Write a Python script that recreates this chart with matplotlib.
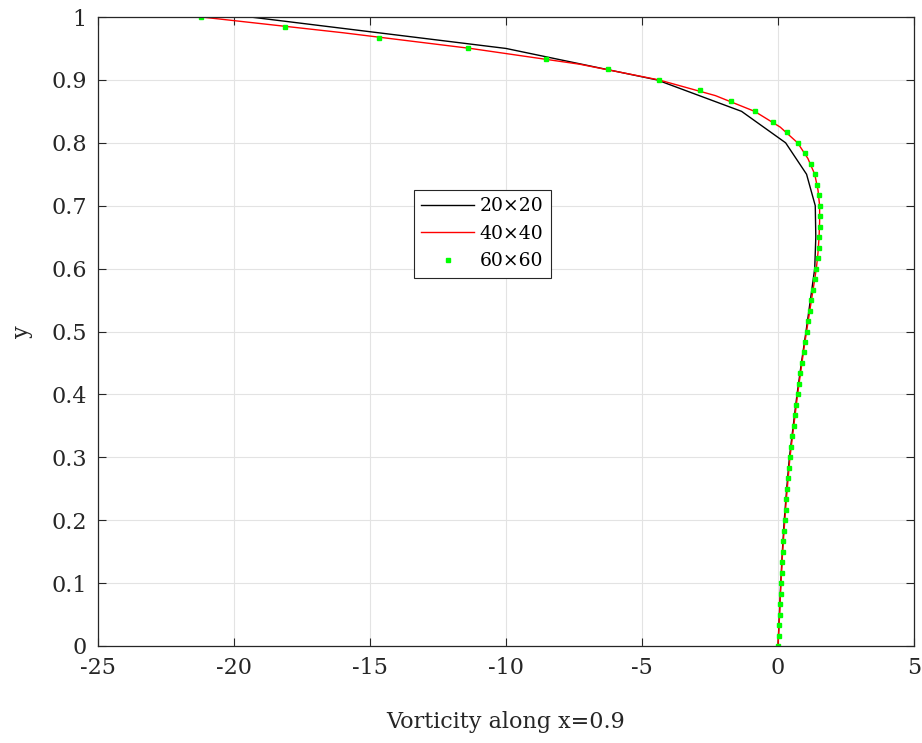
import numpy as np
import matplotlib
matplotlib.use("Agg")
import matplotlib.pyplot as plt

plt.rcParams['font.family'] = ['DejaVu Serif']

# 20x20 mesh (y = 0:0.05:1)
y20 = np.linspace(0, 1, 21)
w20 = [0.0, 0.05, 0.10, 0.16, 0.23, 0.32, 0.42, 0.56, 0.70, 0.86, 1.03,
       1.19, 1.35, 1.39, 1.37, 1.05, 0.28, -1.34, -4.45, -10.0, -19.4]

# 40x40 mesh (y = 0:0.025:1)
y40 = np.linspace(0, 1, 41)
w40 = [0.0, 0.03, 0.06, 0.08, 0.11, 0.14, 0.17, 0.21, 0.25, 0.29, 0.34,
       0.39, 0.44, 0.51, 0.58, 0.65, 0.72, 0.80, 0.88, 0.96, 1.05,
       1.14, 1.23, 1.32, 1.41, 1.47, 1.51, 1.53, 1.53, 1.47, 1.35,
       1.10, 0.72, 0.08, -0.86, -2.30, -4.38, -7.30, -11.30, -16.0, -21.2]

# 60x60 mesh (y = 0:1/60:1)
y60 = np.linspace(0, 1, 61)
w60 = [0.0, 0.03, 0.05, 0.06, 0.08, 0.10, 0.11, 0.13, 0.15, 0.17, 0.20,
       0.22, 0.25, 0.28, 0.31, 0.34, 0.37, 0.40, 0.44, 0.48, 0.53,
       0.58, 0.62, 0.68, 0.72, 0.77, 0.82, 0.88, 0.94, 1.00, 1.05,
       1.11, 1.17, 1.23, 1.29, 1.35, 1.41, 1.46, 1.49, 1.51, 1.53,
       1.54, 1.53, 1.49, 1.42, 1.35, 1.20, 0.98, 0.72, 0.32, -0.19,
       -0.86, -1.74, -2.88, -4.38, -6.25, -8.53, -11.40, -14.67, -18.14, -21.2]

labels = ['20×20', '40×40', '60×60']
xticks = [-25, -20, -15, -10, -5, 0, 5]
yticks = np.round(np.arange(0, 1.01, 0.1), 1)

fig = plt.figure(figsize=(9.22, 7.43), dpi=100)
ax = fig.add_axes([98/922, 97/743, 816/922, 629/743])

ax.plot(w20, y20, color='black', lw=1.0, label=labels[0])
ax.plot(w40, y40, color='red', lw=1.0, label=labels[1])
ax.plot(w60, y60, ls='none', marker='s', ms=3.2, color='#00ff00',
        mec='#00ff00', label=labels[2])

ax.set_xlim(-25, 5)
ax.set_ylim(0, 1)
ax.set_xticks(xticks)
ax.set_yticks(yticks)
ax.set_xticklabels([str(t) for t in xticks])
ax.set_yticklabels(['0'] + [f'{v:.1f}' for v in yticks[1:-1]] + ['1'])
ax.grid(True, color='#e3e3e3', lw=0.8)
ax.set_axisbelow(True)
ax.tick_params(direction='in', top=True, right=True, length=6,
               labelsize=16, colors='#262626', pad=8)
for s in ax.spines.values():
    s.set_color('#262626')
    s.set_linewidth(0.9)

ax.set_xlabel('Vorticity along x=0.9', fontsize=16, color='#262626', labelpad=23)
ax.set_ylabel('y', fontsize=16, color='#262626', labelpad=13)

leg = ax.legend(loc='upper left', bbox_to_anchor=(0.387, 0.725),
                borderaxespad=0, fancybox=False, fontsize=13.5,
                edgecolor='#262626', framealpha=1, handlelength=2.8,
                numpoints=1, borderpad=0.4, labelspacing=0.5,
                handletextpad=0.3)
leg.get_frame().set_linewidth(0.8)

fig.savefig('out.png', dpi=100)
